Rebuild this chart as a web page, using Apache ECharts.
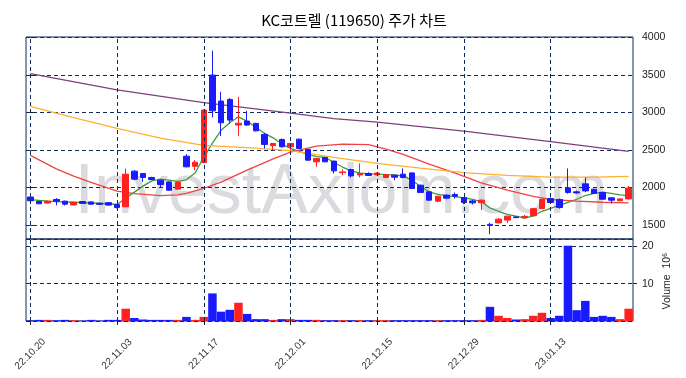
<!DOCTYPE html>
<html>
<head>
<meta charset="utf-8">
<script src="https://cdn.jsdelivr.net/npm/echarts@6/dist/echarts.min.js"></script>
<style>
html,body{margin:0;padding:0;background:#fff;}
#chart{width:686px;height:378px;}
</style>
</head>
<body>
<div id="chart"></div>
<script>
// 날짜 (거래일)
var dates = ['22.10.20','22.10.21','22.10.24','22.10.25','22.10.26','22.10.27','22.10.28','22.10.31',
    '22.11.01','22.11.02','22.11.03','22.11.04','22.11.07','22.11.08','22.11.09','22.11.10','22.11.11','22.11.14','22.11.15','22.11.16',
    '22.11.17','22.11.18','22.11.21','22.11.22','22.11.23','22.11.24','22.11.25','22.11.28','22.11.29','22.11.30',
    '22.12.01','22.12.02','22.12.05','22.12.06','22.12.07','22.12.08','22.12.09','22.12.12','22.12.13','22.12.14',
    '22.12.15','22.12.16','22.12.19','22.12.20','22.12.21','22.12.22','22.12.23','22.12.26','22.12.27','22.12.28',
    '22.12.29','23.01.02','23.01.03','23.01.04','23.01.05','23.01.06','23.01.09','23.01.10','23.01.11','23.01.12',
    '23.01.13','23.01.16','23.01.17','23.01.18','23.01.19','23.01.20','23.01.25','23.01.26','23.01.27','23.01.30'];

// 시가, 종가, 저가, 고가
var ohlc = [
    [1870,1820,1810,1880],[1812,1780,1775,1815],[1790,1815,1785,1822],[1837,1815,1760,1855],[1815,1775,1757,1820],
    [1765,1800,1760,1805],[1810,1785,1780,1815],[1805,1775,1770,1810],[1788,1772,1768,1792],[1795,1762,1752,1800],
    [1770,1730,1717,1775],[1740,2175,1735,2250],[2215,2108,2095,2228],[2184,2131,2072,2190],[2131,2104,2095,2140],
    [2095,2037,1997,2100],[2072,1961,1955,2078],[1975,2064,1970,2070],[2415,2273,2265,2442],[2280,2335,2228,2362],
    [2330,3030,2320,3035],[3497,3020,2932,3821],[3150,2860,2683,3274],[3172,2896,2852,3190],[2830,2855,2686,3207],
    [2883,2830,2820,3020],[2852,2753,2745,2860],[2705,2572,2518,2726],[2555,2585,2495,2590],[2638,2540,2530,2650],
    [2540,2585,2495,2590],[2642,2518,2510,2650],[2505,2362,2355,2510],[2340,2385,2273,2390],[2398,2340,2335,2405],
    [2349,2219,2184,2355],[2195,2205,2160,2240],[2238,2152,2130,2250],[2165,2185,2131,2318],[2184,2158,2150,2200],
    [2165,2190,2160,2195],[2131,2170,2125,2175],[2162,2135,2095,2168],[2175,2131,2120,2251],[2192,1984,1980,2198],
    [2028,1931,1925,2035],[1939,1828,1822,1945],[1815,1880,1800,1885],[1895,1855,1840,1905],[1904,1881,1850,1930],
    [1864,1797,1775,1870],[1818,1792,1770,1830],[1795,1828,1695,1840],[1505,1490,1375,1525],[1525,1575,1520,1590],
    [1562,1615,1525,1620],[1605,1595,1590,1610],[1595,1612,1580,1630],[1620,1715,1612,1725],[1717,1837,1712,1842],
    [1850,1797,1790,1865],[1837,1730,1715,1850],[1992,1931,1915,2251],[1939,1925,1915,1955],[2046,1952,1935,2131],
    [1975,1918,1910,1980],[1931,1841,1835,1935],[1859,1828,1784,1862],[1820,1845,1815,1850],[1845,1990,1840,2019]
];

// 거래량 (백만)
var volume = [0.2,0.3,0.3,0.2,0.3,0.2,0.1,0.3,0.1,0.3,
    0.3,3.3,0.8,0.4,0.3,0.3,0.3,0.3,1.1,0.3,
    1.1,7.4,2.5,3.0,4.9,1.9,0.5,0.5,0.3,0.5,
    0.5,0.3,0.3,0.3,0.2,0.2,0.2,0.2,0.2,0.2,
    0.2,0.2,0.2,0.2,0.2,0.2,0.2,0.2,0.2,0.2,
    0.2,0.2,0.3,3.8,1.4,0.8,0.4,0.5,1.4,2.2,
    0.8,1.4,20.2,2.9,5.4,1.1,1.4,1.1,0.5,3.3];

// 이동평균선
var ma5 = [1835,1825,1815,1810,1805,1800,1795,1790,1785,1780,
    1770,1855,1935,2015,2085,2110,2095,2080,2100,2190,
    2400,2590,2760,2860,2940,2880,2800,2720,2660,2580,
    2518,2480,2440,2410,2400,2330,2270,2220,2190,2180,
    2175,2170,2165,2150,2095,2010,1940,1905,1890,1875,
    1860,1840,1810,1725,1680,1640,1615,1590,1620,1680,
    1720,1760,1800,1840,1890,1920,1935,1920,1900,1890];
var ma20 = [[0,2425],[3,2245],[5,2150],[7,2065],[10,1950],[12,1915],[15,1890],[17,1900],[18,1920],[20,1985],
    [22,2070],[25,2230],[28,2380],[30,2470],[33,2550],[36,2575],[39,2570],[41,2510],[43,2440],[46,2310],
    [49,2190],[52,2060],[55,1961],[58,1880],[60,1837],[63,1815],[66,1800],[69,1792]];
var ma60 = [[0,3080],[5,2930],[10,2785],[15,2655],[20,2560],[25,2530],[30,2490],[35,2400],[40,2320],
    [45,2255],[50,2195],[55,2160],[60,2135],[65,2135],[69,2145]];
var ma120 = [[0,3515],[10,3300],[20,3130],[30,2990],[35,2915],[40,2870],[50,2750],[60,2610],[69,2480]];

var dateTicks = [0,10,20,30,40,50,60];

var upColor = '#ff2020';
var downColor = '#1a1aff';
var navy = '#0f2a5c';
var font = '"Liberation Sans", "DejaVu Sans", sans-serif';

var volData = [];
for (var i = 0; i < volume.length; i++) {
    volData.push({
        value: volume[i],
        itemStyle: {color: ohlc[i][1] >= ohlc[i][0] ? upColor : downColor}
    });
}

var vLines = [];
for (var i = 0; i < dateTicks.length; i++) {
    vLines.push({xAxis: dateTicks[i]});
}
var vLineStyle = {
    silent: true,
    symbol: ['none', 'none'],
    label: {show: false},
    animation: false,
    lineStyle: {color: navy, type: [4, 3], width: 1},
    data: vLines
};

function maLine(data, color, axis) {
    return {
        type: 'line',
        xAxisIndex: axis,
        yAxisIndex: 0,
        data: data,
        symbol: 'none',
        silent: true,
        z: 3,
        lineStyle: {color: color, width: 1.3}
    };
}

var myChart = echarts.init(document.getElementById('chart'));
myChart.setOption({
    animation: false,
    backgroundColor: '#fff',
    title: {
        text: 'KC코트렐 (119650) 주가 차트',
        left: 349,
        textAlign: 'center',
        top: 8,
        textStyle: {fontSize: 15, fontWeight: 'normal', color: '#000', fontFamily: '"Noto Sans CJK KR", "DejaVu Sans", sans-serif'}
    },
    graphic: [{
        type: 'text',
        z: -1,
        silent: true,
        style: {
            text: 'InvestAxiom.com',
            x: 341, y: 194,
            textAlign: 'center',
            textVerticalAlign: 'middle',
            font: '70px "Liberation Sans", sans-serif',
            fill: 'rgba(190,190,196,0.55)'
        }
    }, {
        type: 'text',
        silent: true,
        rotation: Math.PI / 2,
        x: 667, y: 281,
        style: {
            text: 'Volume  10⁶',
            textAlign: 'center',
            textVerticalAlign: 'middle',
            font: '10.5px "Liberation Sans", "DejaVu Sans", sans-serif',
            fill: '#222'
        }
    }],
    grid: [
        {left: 26, right: 53, top: 37, height: 202, show: true, borderColor: navy, borderWidth: 1},
        {left: 26, right: 53, top: 239, height: 82, show: true, borderColor: navy, borderWidth: 1}
    ],
    xAxis: [
        {type: 'category', gridIndex: 0, data: dates, boundaryGap: true,
            axisLine: {show: false}, axisTick: {show: false}, axisLabel: {show: false}, splitLine: {show: false}},
        {type: 'category', gridIndex: 1, data: dates, boundaryGap: true,
            axisLine: {show: false},
            axisTick: {show: true, alignWithLabel: true, interval: 9, length: 4, lineStyle: {color: '#222'}},
            axisLabel: {interval: 9, rotate: 45, align: 'center', verticalAlign: 'middle', margin: 33,
                fontSize: 10, color: '#333', fontFamily: font},
            splitLine: {show: false}},
        {type: 'value', gridIndex: 0, min: -0.5, max: 69.5, show: false}
    ],
    yAxis: [
        {type: 'value', gridIndex: 0, position: 'right', min: 1310, max: 4005, splitNumber: 5, scale: true,
            axisLine: {show: false},
            axisTick: {show: true, length: 4, lineStyle: {color: '#222'}},
            axisLabel: {showMinLabel: false, showMaxLabel: false, margin: 9, fontSize: 10.5, color: '#222', fontFamily: font,
                formatter: function (v) { return String(v); }},
            splitLine: {show: true, lineStyle: {color: navy, type: [4, 3], width: 1}}},
        {type: 'value', gridIndex: 1, position: 'right', min: 0, max: 22, interval: 10,
            axisLine: {show: false},
            axisTick: {show: true, length: 4, lineStyle: {color: '#222'}},
            axisLabel: {showMinLabel: false, showMaxLabel: false, margin: 9, fontSize: 10.5, color: '#222', fontFamily: font},
            splitLine: {show: true, lineStyle: {color: navy, type: [4, 3], width: 1}}}
    ],
    series: [
        {
            type: 'candlestick',
            xAxisIndex: 0,
            yAxisIndex: 0,
            data: ohlc.map(function (d) { return [d[0], d[1], d[2], d[3]]; }),
            barWidth: 6,
            z: 4,
            itemStyle: {color: upColor, color0: downColor, borderColor: upColor, borderColor0: downColor, borderWidth: 1},
            markLine: vLineStyle
        },
        maLine(ma5, '#3a9d3a', 0),
        maLine(ma20, '#f04444', 2),
        maLine(ma60, '#ffb030', 2),
        maLine(ma120, '#7f3f7f', 2),
        {
            type: 'bar',
            xAxisIndex: 1,
            yAxisIndex: 1,
            data: volData,
            barCategoryGap: '2%',
            markLine: vLineStyle
        }
    ]
});
</script>
</body>
</html>
